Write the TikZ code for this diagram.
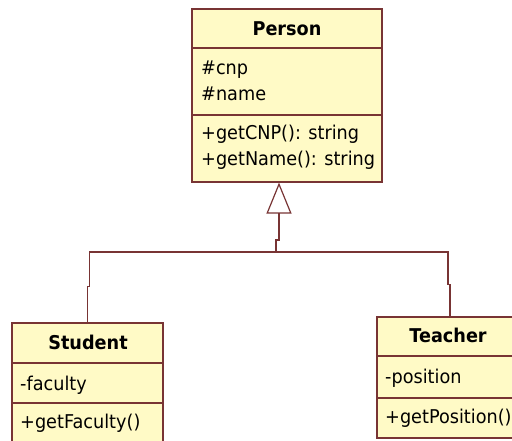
\documentclass[tikz,border=0pt]{standalone}
\usepackage{fontspec}
\setmainfont{DejaVu Sans}[FakeStretch=0.93]
\usetikzlibrary{arrows.meta,calc}
\definecolor{umlfill}{RGB}{255,250,198}
\definecolor{umlline}{RGB}{120,52,52}
\begin{document}
\begin{tikzpicture}[x=1pt,y=-1pt,
  classbox/.style={draw=umlline, fill=umlfill, line width=1.2pt, rectangle, inner sep=0pt},
  classname/.style={font=\fontsize{19}{22}\selectfont\bfseries, inner sep=0pt, anchor=base},
  member/.style={font=\fontsize{19}{22}\selectfont, inner sep=0pt, anchor=base west},
  compartment/.style={draw=umlline, line width=1.2pt},
  link/.style={draw=umlline, line width=1.2pt},
  inherits/.style={link, -{Triangle[open, length=31pt, width=25pt]}},
]
\useasboundingbox (0,0) rectangle (512,441);

% class boxes
\node[classbox, minimum width=190pt, minimum height=173pt] (person) at (287,95.5) {};
\node[classbox, minimum width=151pt, minimum height=123pt] (student) at (87.5,384.5) {};
\node[classbox, minimum width=146pt, minimum height=121pt] (teacher) at (450,377.5) {};

% compartment separators
\draw[compartment] (person.west |- 0,48) -- (person.east |- 0,48);
\draw[compartment] (person.west |- 0,115) -- (person.east |- 0,115);
\draw[compartment] (student.west |- 0,363) -- (student.east |- 0,363);
\draw[compartment] (student.west |- 0,403) -- (student.east |- 0,403);
\draw[compartment] (teacher.west |- 0,356) -- (teacher.east |- 0,356);
\draw[compartment] (teacher.west |- 0,398) -- (teacher.east |- 0,398);

% Person
\node[classname] (personname) at (287,36) {Person};
\node[member] (pcnp) at (201,75) {\#cnp};
\node[member] (pname) at (201,100.5) {\#name};
\node[member] (pgetcnp) at (201,140) {+getCNP(): string};
\node[member] (pgetname) at (201,166) {+getName(): string};

% Student
\node[classname] (studentname) at (88,349) {Student};
\node[member] (sfaculty) at (20,390) {-faculty};
\node[member] (sgetfaculty) at (20,428) {+getFaculty()};

% Teacher
\node[classname] (teachername) at (448,342) {Teacher};
\node[member] (tposition) at (385,383) {-position};
\node[member] (tgetposition) at (385,423) {+getPosition()};

% generalization
\coordinate (hub) at (276,252);
\draw[link] (student.north) -- ++(0,-36) -- ++(2,0) |- (hub);
\draw[link] (teacher.north) -- ++(0,-32) -- ++(-2,0) |- (hub);
\draw[inherits] (hub) -- ++(0,-12) -- ++(3,0) -- ($(person.south)+(-8,0)$);
\end{tikzpicture}
\end{document}
